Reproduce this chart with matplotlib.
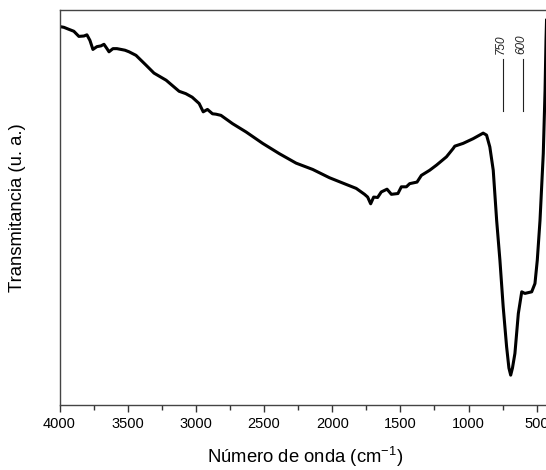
import matplotlib
matplotlib.use("Agg")
import matplotlib.pyplot as plt
import numpy as np

plt.rcParams['font.family'] = ['Liberation Sans', 'DejaVu Sans']
plt.rcParams['mathtext.fontset'] = 'custom'
plt.rcParams['mathtext.rm'] = 'Liberation Sans'
plt.rcParams['mathtext.it'] = 'Liberation Sans:italic'

# wavenumber (cm^-1) and transmittance (arbitrary units)
wavenumber = [4000, 3968, 3932, 3895, 3858, 3821, 3799, 3777, 3755, 3726, 3696, 3674,
              3652, 3637, 3608, 3579, 3549, 3520, 3490, 3439, 3365, 3307, 3218, 3123,
              3074, 3027, 2976, 2946, 2915, 2878, 2853, 2816, 2731, 2632, 2510, 2388,
              2265, 2143, 2020, 1897, 1824, 1763, 1740, 1718, 1696, 1667, 1640, 1598,
              1566, 1518, 1493, 1456, 1432, 1378, 1346, 1285, 1235, 1162, 1113, 1101,
              1040, 966, 893, 868, 844, 819, 794, 770, 746, 721, 704, 691, 678, 660,
              635, 610, 587, 537, 513, 496, 476, 452, 439, 432, 428]
transmittance = [95.9, 95.7, 95.2, 94.7, 93.4, 93.5, 93.8, 92.4, 90.1, 90.8, 91.0, 91.4,
                 90.3, 89.5, 90.3, 90.3, 90.1, 89.9, 89.5, 88.6, 86.1, 84.1, 82.3, 79.5,
                 78.9, 78.0, 76.4, 74.3, 74.9, 73.8, 73.7, 73.4, 71.3, 69.2, 66.3, 63.7,
                 61.3, 59.7, 57.6, 55.9, 54.9, 53.4, 52.7, 51.0, 52.7, 52.6, 54.0, 54.7,
                 53.4, 53.6, 55.3, 55.3, 56.1, 56.5, 58.2, 59.5, 60.8, 62.9, 65.0, 65.6,
                 66.3, 67.5, 68.9, 68.4, 65.4, 59.5, 46.8, 36.7, 24.9, 14.8, 9.4, 7.6, 9.4, 13.1,
                 23.2, 28.7, 28.3, 28.7, 30.8, 36.7, 46.8, 63.7, 79.7, 92.4, 97.5]

band_positions = [750, 600]
band_labels = ["750", "600"]

fig = plt.figure(figsize=(5.46, 4.70), dpi=100)
ax = fig.add_axes([0.109, 0.138, 0.899, 0.840])

ax.plot(wavenumber, transmittance, color='black', lw=2.2, solid_joinstyle='round')

for pos, lab in zip(band_positions, band_labels):
    ax.plot([pos, pos], [74.4, 87.8], color='#222222', lw=0.8)
    ax.text(pos + 14, 89.0, lab, rotation=90, ha='center', va='bottom',
            fontsize=8.5, style='italic', color='#222222')

ax.set_xlim(4000, 400)
ax.set_ylim(0, 100)
ax.set_xticks([4000, 3500, 3000, 2500, 2000, 1500, 1000, 500])
ax.set_xticks(np.arange(3750, 400, -500), minor=True)
ax.set_yticks([])
ax.tick_params(axis='x', which='major', direction='out', length=5, width=1, labelsize=10.5, colors='#333333', labelcolor='black')
ax.tick_params(axis='x', which='minor', direction='out', length=3.5, width=1, colors='#333333')
for s in ax.spines.values():
    s.set_color('#444444')
    s.set_linewidth(1.0)

ax.set_xlabel('Número de onda (cm$^{\\mathregular{-1}}$)', fontsize=13.3, labelpad=10)
ax.set_ylabel('Transmitancia (u. a.)', fontsize=13.3, labelpad=24)

fig.savefig('out.png', dpi=100)
